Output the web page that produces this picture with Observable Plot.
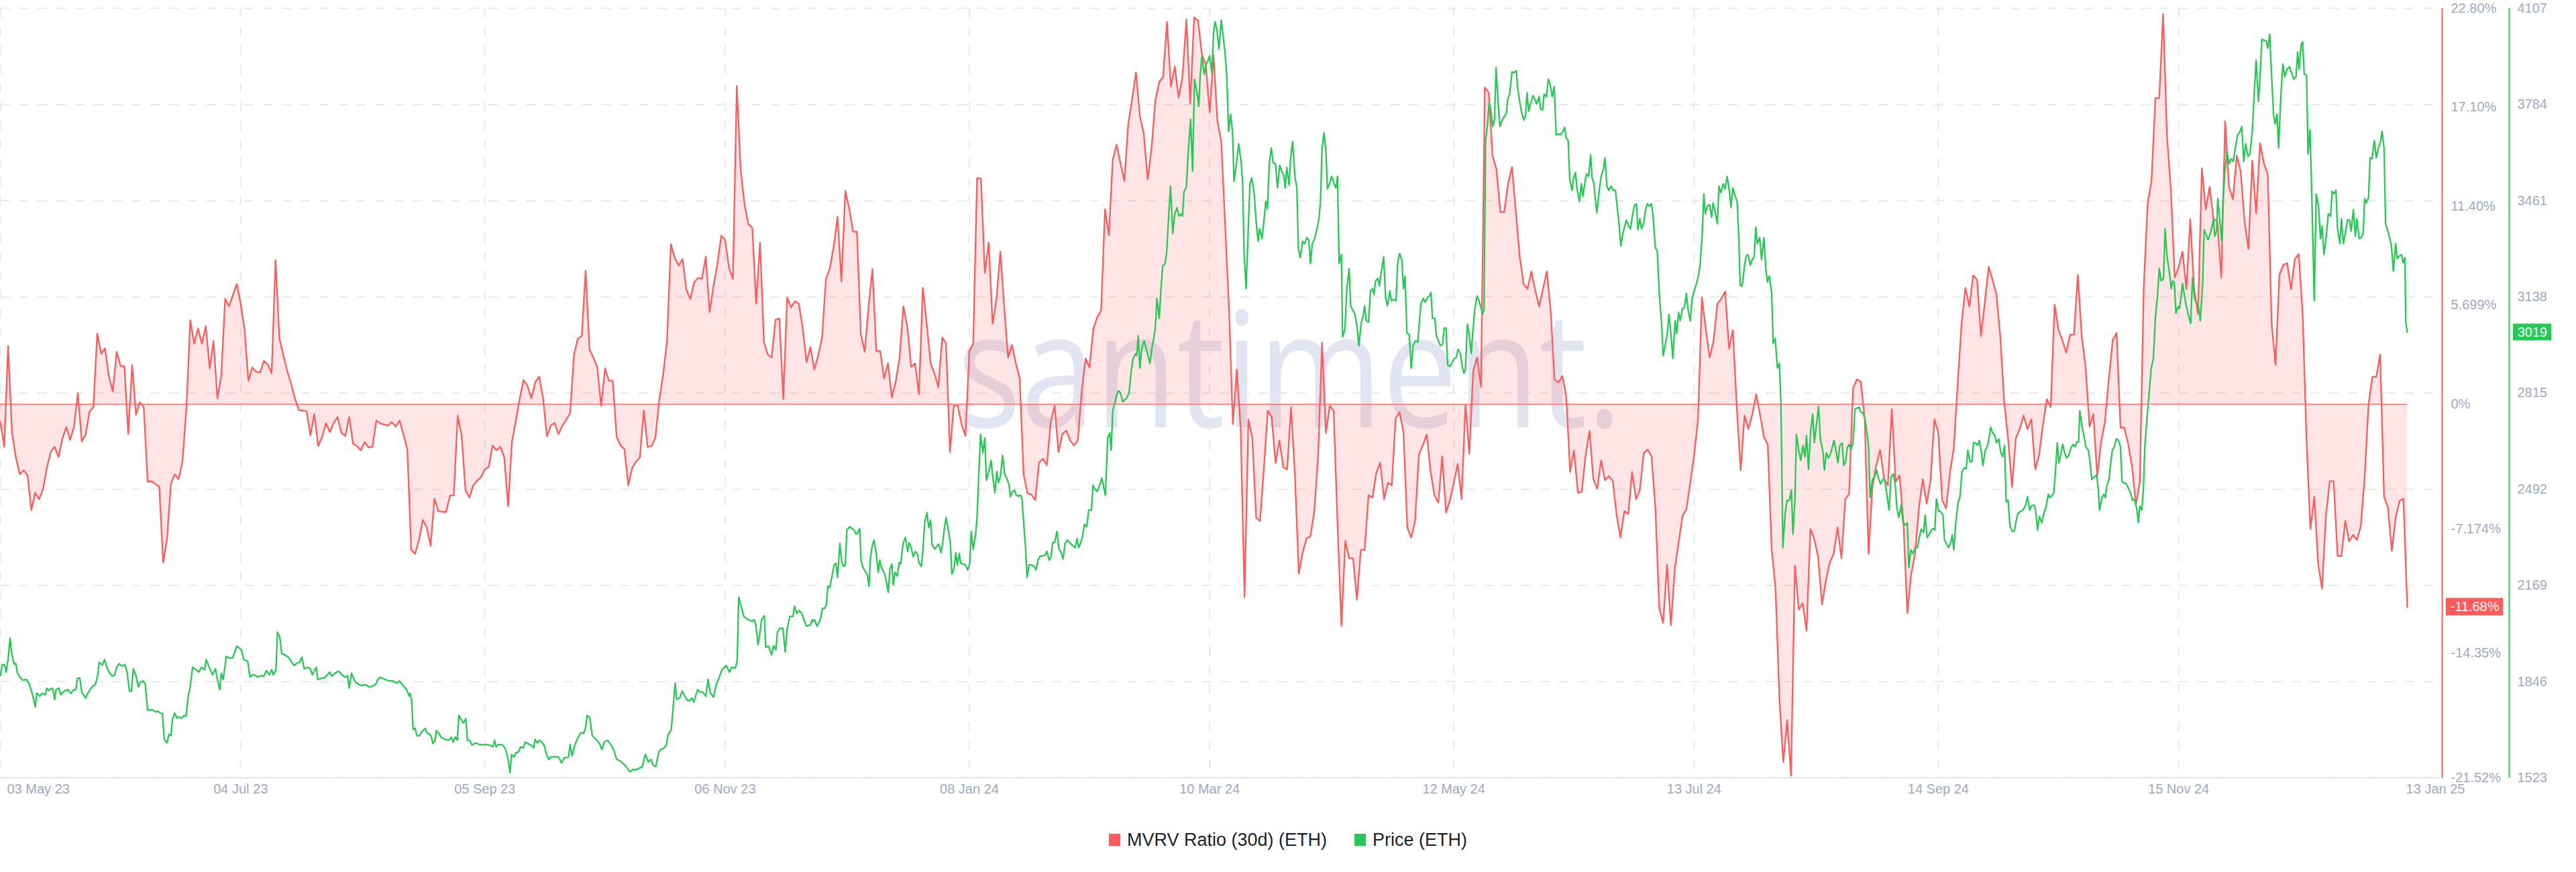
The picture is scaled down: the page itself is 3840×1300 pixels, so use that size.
<!DOCTYPE html>
<html><head><meta charset="utf-8">
<script src="https://cdn.jsdelivr.net/npm/d3@7"></script>
<script src="https://cdn.jsdelivr.net/npm/@observablehq/plot@0.6"></script>
<style>
html,body{margin:0;padding:0;background:#fff;}
body{width:3840px;height:1300px;overflow:hidden;position:relative;font-family:"Liberation Sans",Arial,sans-serif;}
#wm{position:absolute;left:1427px;top:424px;font-family:"Open Sans";font-size:240px;line-height:1;color:#e2e5f1;transform:scaleX(0.83);transform-origin:0 0;white-space:nowrap;}
#chart{position:absolute;left:0;top:0;}
#legend{position:absolute;left:0;top:1232px;width:3840px;height:40px;display:flex;justify-content:center;align-items:center;gap:41px;font-size:27px;color:#1b1e2e;}
.item{display:flex;align-items:center;gap:10px;}
.sw{width:17px;height:18px;display:inline-block;}
</style></head>
<body>
<div id="wm">santiment.</div>
<div id="chart"></div>
<div id="legend"></div>
<script>
const startDate = "2023-05-03";
const xEndDate = "2025-01-22";
const seriesNames = ["MVRV Ratio (30d) (ETH)", "Price (ETH)"];

// MVRV Ratio (30d), percent, one value per day from startDate
const mvrv = [
-1.03,-2.46,3.35,-1.66,-3.06,-4.04,-3.81,-4.10,-6.10,-5.10,
-5.47,-4.90,-3.67,-2.75,-2.46,-3.04,-2.00,-1.32,-2.06,-1.29,
0.63,-2.15,-1.75,-0.43,-0.17,4.07,2.92,3.21,1.60,0.74,
3.01,2.21,2.18,-1.72,2.26,-0.60,0.11,-0.17,-4.47,-4.44,
-4.60,-4.75,-9.11,-7.76,-4.58,-4.04,-4.32,-3.27,-0.23,4.84,
3.49,4.35,3.49,4.50,2.06,3.64,0.34,1.69,6.07,5.64,
6.30,6.93,5.79,4.30,1.35,2.12,1.86,1.83,2.49,2.29,
1.78,8.31,3.78,2.84,1.92,1.20,0.34,-0.34,-0.37,-0.40,
-1.80,-0.57,-2.41,-1.89,-1.09,-1.60,-1.09,-0.74,-1.66,-1.83,
-0.74,-2.29,-2.41,-2.66,-2.18,-2.49,-2.46,-0.95,-1.10,-1.17,
-1.23,-1.03,-1.29,-0.95,-1.75,-2.61,-8.39,-8.62,-7.82,-6.67,
-7.10,-8.16,-5.44,-6.16,-6.20,-6.21,-5.27,-5.24,-0.66,-1.80,
-4.95,-5.38,-4.67,-4.41,-4.21,-3.75,-3.61,-2.38,-2.66,-2.46,
-3.06,-5.87,-2.15,-0.95,0.34,1.40,1.06,0.34,1.26,1.60,
0.40,-1.86,-1.23,-1.09,-1.72,-1.23,-0.89,-0.52,2.86,3.78,
3.92,7.70,3.15,2.69,2.12,-0.09,2.06,1.35,1.35,-1.89,
-2.38,-2.58,-4.67,-3.67,-3.32,-3.06,-0.37,-2.46,-2.41,-1.95,
0.26,1.72,3.64,9.22,8.42,7.99,8.36,6.59,6.07,7.02,
7.27,7.22,8.51,5.30,6.84,8.08,9.71,9.45,7.85,7.22,
18.33,13.52,11.51,10.37,10.17,5.79,9.31,3.58,2.86,2.69,
4.87,4.93,0.29,6.16,5.58,5.93,5.79,4.41,2.43,3.29,
2.00,2.81,3.84,7.22,7.82,9.08,10.80,7.07,12.29,11.28,
9.94,9.94,4.07,3.01,5.61,7.79,3.06,3.06,1.49,2.35,
0.40,1.29,2.69,5.64,4.47,2.15,2.35,0.57,6.70,4.64,
2.35,1.78,0.97,3.84,3.49,-2.75,-0.09,-0.09,-1.17,-1.83,
3.06,3.49,13.03,13.00,7.56,9.31,4.64,6.07,8.79,5.58,
2.69,3.41,2.35,1.49,-4.04,-5.13,-5.20,-5.53,-3.35,-3.15,
-3.52,-1.03,-0.09,-2.75,-1.72,-1.52,-2.09,-2.38,-2.09,0.83,
2.63,2.12,4.35,5.01,5.41,11.23,9.74,14.09,14.95,13.86,
12.86,16.15,17.58,19.10,16.61,15.58,12.95,14.72,17.53,18.56,
18.87,22.02,18.30,19.45,17.67,18.87,22.17,17.33,22.28,22.11,
20.16,19.56,16.81,20.11,16.33,15.15,10.31,5.50,-1.15,2.00,
-1.37,-11.11,-0.89,-1.95,-6.53,-6.73,-3.67,-0.37,-0.74,-3.38,
-2.09,-3.64,-3.75,-0.17,-4.10,-9.77,-8.53,-7.73,-7.62,-6.19,
-2.95,3.55,-1.66,-0.09,-0.40,-6.96,-12.77,-7.88,-8.88,-8.88,
-11.26,-8.39,-8.39,-5.24,-5.38,-3.95,-3.38,-5.47,-4.53,-4.67,
-0.80,-0.46,-1.60,-7.10,-7.68,-6.73,-2.89,-2.38,-1.75,-3.87,
-5.24,-5.67,-3.01,-6.24,-5.53,-4.53,-3.44,-5.47,-0.03,-2.86,
1.92,2.69,1.00,18.24,17.96,14.32,13.52,11.08,11.08,12.72,
13.66,11.08,8.51,6.93,6.64,7.65,6.56,5.64,6.64,7.65,
5.36,1.40,1.26,1.63,0.46,-3.90,-2.66,-5.10,-5.04,-2.95,
-1.55,-4.32,-4.87,-3.24,-4.38,-4.15,-4.41,-6.39,-7.68,-6.16,
-6.33,-3.90,-5.47,-4.95,-2.81,-2.61,-3.01,-5.96,-11.74,-12.60,
-9.25,-12.74,-9.54,-7.96,-6.44,-6.04,-4.53,-2.95,-0.86,6.16,
4.35,2.69,3.64,5.79,6.07,6.50,3.21,4.27,-0.17,-3.81,
-0.66,-1.43,-0.60,0.57,-0.60,-1.89,-2.32,-8.33,-10.63,-16.98,
-20.62,-18.19,-21.40,-9.31,-11.83,-11.46,-13.06,-7.19,-7.76,-8.82,
-11.54,-10.17,-9.11,-8.62,-7.10,-8.88,-5.47,-5.18,0.92,1.43,
1.29,-0.80,-8.62,-4.75,-3.52,-2.63,-4.30,-4.67,-0.29,-4.47,
-4.10,-6.82,-12.03,-9.77,-8.62,-5.96,-4.32,-5.73,-4.38,-0.86,
-1.66,-5.53,-6.01,-3.95,-2.52,1.20,4.64,6.70,5.64,7.42,
7.16,3.92,5.87,7.93,7.16,6.30,3.87,0.11,-2.00,-4.78,
-1.95,-1.43,-0.66,-1.43,-0.86,-3.75,-2.95,-1.17,0.29,-0.17,
5.73,4.30,3.69,2.98,4.01,4.01,7.45,3.92,2.15,-1.29,
-0.57,-4.18,-2.18,-1.00,1.49,3.69,4.12,-1.35,-1.35,-2.32,
-3.61,-5.81,-4.44,6.70,11.57,12.86,17.64,17.64,22.48,15.44,
12.37,7.30,7.88,8.79,6.64,10.65,6.64,5.21,13.60,11.23,
12.52,10.65,10.57,7.30,16.30,12.52,11.80,14.32,13.43,10.57,
8.94,14.03,11.00,15.04,13.89,13.23,4.64,2.26,7.45,8.02,
8.13,6.64,8.36,8.65,5.21,-2.09,-7.19,-5.33,-9.19,-10.63,
-6.44,-4.44,-4.44,-8.74,-8.74,-6.73,-7.90,-7.53,-7.82,-7.02,
-4.24,0.00,1.58,1.58,2.86,-5.33,-5.96,-8.45,-6.53,-5.56,
-5.44,-11.68
];

// Price (ETH), USD: [days since startDate, price]
const priceSeries = [
[0,1866],[0.5,1903],[1.1,1903],[1.5,1878],[2,1920],[2.5,1992],[3,1936],[3.5,1906],[4,1906],[4.4,1874],[5.1,1861],[5.7,1851],[6.7,1853],[7.4,1841],[8.1,1811],[8.6,1786],[9,1761],[9.4,1807],[10.2,1797],[10.8,1807],[11.6,1802],[12,1824],[12.5,1816],[13.2,1824],[13.6,1819],[14,1786],[14.4,1819],[15.1,1824],[15.6,1802],[16.4,1814],[17.5,1819],[18.2,1806],[18.9,1819],[19.5,1819],[19.9,1858],[20.5,1858],[21,1811],[22,1791],[22.5,1806],[23,1816],[23.6,1828],[24.5,1836],[25.1,1866],[25.5,1911],[26.3,1901],[26.9,1920],[27.7,1886],[28.3,1873],[29,1864],[29.5,1869],[30,1894],[30.7,1906],[31.4,1898],[32.1,1903],[32.7,1878],[33.3,1814],[33.8,1814],[34.3,1889],[35,1866],[35.6,1828],[36.1,1844],[36.9,1848],[37.4,1836],[38,1749],[39.1,1752],[40.1,1744],[40.7,1747],[41.2,1740],[41.8,1739],[42.3,1652],[43,1640],[43.5,1669],[44,1664],[44.4,1719],[45,1740],[45.5,1724],[46.2,1727],[46.7,1722],[47.3,1732],[47.9,1730],[48.5,1799],[49,1831],[49.6,1894],[50.5,1886],[51.2,1878],[51.9,1894],[52.7,1886],[53.1,1920],[53.9,1894],[54.7,1869],[55.5,1889],[56,1853],[56.6,1819],[57,1874],[57.5,1853],[58.3,1931],[59,1925],[59.9,1925],[61,1965],[61.7,1958],[62.2,1953],[62.8,1920],[63.8,1915],[64.4,1861],[65.1,1869],[65.7,1868],[66.4,1861],[67.3,1866],[68,1864],[68.6,1883],[69.4,1869],[70,1886],[70.4,1869],[71.1,1886],[71.5,2012],[72.1,1995],[72.6,1940],[73.5,1935],[74.3,1928],[75.2,1911],[75.8,1900],[76.5,1908],[77.2,1911],[77.8,1928],[78.4,1889],[79.2,1894],[80,1889],[80.5,1869],[81.5,1894],[81.9,1853],[83,1858],[83.6,1858],[84.3,1868],[85,1878],[85.5,1864],[86.3,1874],[87.3,1881],[88.2,1868],[88.9,1861],[89.6,1866],[90,1824],[90.6,1874],[91.6,1844],[92.5,1836],[93.2,1833],[94.3,1836],[95.1,1828],[96,1831],[96.8,1836],[97.4,1853],[98,1861],[99.1,1854],[100.1,1849],[101.3,1848],[102.2,1841],[103,1848],[104,1831],[104.8,1819],[105.5,1797],
[105.7,1806],[106.1,1786],[106.5,1685],[107,1689],[107.5,1664],[108.1,1664],[108.7,1677],[109.6,1689],[110.1,1674],[110.8,1669],[111.2,1660],[111.6,1638],[112.1,1647],[112.5,1682],[113.1,1672],[113.9,1657],[114.8,1652],[115.6,1649],[116.4,1659],[116.8,1643],[117.4,1660],[117.9,1649],[118.3,1732],[118.9,1719],[119.5,1707],[120.1,1722],[120.5,1649],[121.1,1649],[121.7,1632],[122.5,1640],[123.6,1635],[124.5,1633],[125.5,1635],[126.4,1632],[127.1,1627],[127.5,1649],[127.9,1627],[128.5,1635],[129.6,1633],[130.4,1618],[131,1585],[131.5,1540],[131.9,1602],[132.5,1593],[133,1607],[133.7,1610],[134.2,1627],[134.9,1623],[135.4,1643],[136.1,1638],[137,1632],[137.6,1623],[138,1652],[138.5,1640],[139.1,1649],[139.7,1643],[140.3,1632],[140.9,1602],[141.5,1585],[142,1593],[142.8,1593],[144,1593],[144.8,1573],[145.5,1590],[146.6,1593],[147,1635],[147.5,1597],[148.2,1632],[148.7,1649],[149.7,1674],[150.4,1672],[150.9,1685],[151.4,1732],[152.1,1724],[152.7,1665],[153.7,1652],[154.5,1640],[155.2,1618],[155.8,1643],[156.7,1649],[157.6,1632],[158.3,1615],[159,1585],[159.9,1580],[160.9,1568],[161.5,1560],[162.4,1543],[163.3,1551],[164,1550],[164.9,1556],[165.6,1560],[166.4,1602],[167.2,1576],[167.9,1585],[168.4,1565],[169.1,1560],[169.9,1610],[170.4,1618],[171.1,1622],[171.8,1632],[172.3,1669],[173.1,1685],[174.1,1841],[174.5,1786],[175.3,1791],[175.9,1814],[176.6,1797],[177.2,1784],[177.8,1781],[178.4,1791],[178.9,1777],[179.9,1819],[180.5,1811],[181.2,1811],[182,1797],[182.6,1853],[183.2,1807],[184,1794],[184.7,1836],[185.4,1858],[186.2,1886],[187.3,1900],[188.1,1878],[188.7,1894],[189.6,1891],[190.1,1915],[190.5,2129],[191.2,2095],[191.8,2065],[192.9,2054],[194,2048],[194.5,2054],[194.9,2037],[195.5,1970],[195.9,2003],[196.4,2054],[197.1,2067],[197.5,1961],[198.2,1965],[199,1936],[199.5,1966],[200.1,1953],[200.5,2012],[201.1,2025],[201.9,2025],[202.5,1945],[203,2023],[203.7,2065],[204.5,2065],[204.9,2099],[205.5,2075],[206.1,2085],[206.8,2075],[207.3,2054],[208,2032],[209,2037],[209.5,2054],
[209.6,2048],[210.1,2053],[210.7,2032],[211.2,2045],[211.7,2062],[212.1,2092],[212.7,2092],[213.1,2104],[213.5,2166],[214,2162],[214.5,2196],[215.1,2238],[215.6,2243],[216,2196],[216.6,2310],[217.1,2246],[217.6,2233],[218,2238],[218.4,2355],[219.1,2366],[219.8,2360],[220.3,2355],[220.7,2343],[221.1,2343],[221.7,2360],[222.1,2249],[222.6,2229],[223.3,2213],[223.7,2204],[224.1,2166],[224.5,2263],[224.9,2299],[225.4,2321],[226,2274],[226.5,2213],[226.9,2254],[227.3,2229],[227.9,2216],[228.4,2196],[229.1,2146],[229.5,2224],[230,2241],[230.4,2171],[230.8,2213],[231.4,2201],[231.9,2246],[232.3,2241],[232.9,2310],[233.5,2330],[234.1,2283],[234.5,2313],[235,2296],[235.5,2266],[236.1,2283],[236.6,2274],[237,2246],[237.6,2233],[238,2284],[238.5,2383],[239.1,2413],[239.5,2363],[240,2388],[240.4,2305],[241.1,2291],[241.6,2301],[242.1,2308],[242.7,2279],[243.1,2308],[243.5,2355],[244,2397],[244.6,2355],[245.1,2313],[245.5,2207],[246.1,2229],[246.5,2279],[246.9,2238],[247.4,2276],[247.8,2243],[248.3,2241],[249,2238],[249.6,2221],[250.1,2243],[250.5,2350],[251,2290],[251.6,2338],[252,2397],[252.4,2530],[252.9,2676],[253.5,2614],[254,2664],[254.4,2522],[255.1,2556],[255.6,2589],[256,2539],[256.6,2480],[257.1,2551],[257.5,2514],[258,2534],[258.6,2606],[259.1,2544],[259.7,2527],[260.2,2510],[260.6,2467],[261.1,2484],[261.7,2489],[262.1,2472],[262.6,2469],[263.2,2472],[263.6,2459],[264.1,2364],[264.5,2296],[264.9,2196],[265.4,2238],[266,2238],[266.7,2233],[267.2,2221],[267.7,2254],[268.3,2268],[268.9,2268],[269.6,2271],[270,2284],[270.6,2254],[271.1,2266],[271.5,2313],[272,2313],[272.6,2350],[273.1,2293],[273.7,2279],[274.2,2258],[274.7,2310],[275.3,2321],[276.1,2310],[276.8,2301],[277.3,2296],[277.8,2326],[278.2,2296],[278.6,2308],[279.2,2333],[279.7,2375],[280.3,2366],[280.8,2422],[281.5,2422],[281.9,2505],[282.4,2492],[283,2485],[283.6,2505],[284.2,2530],[284.7,2497],[285.1,2472],[285.7,2664],[286.2,2681],[286.6,2623],[287,2756],[287.5,2781],[288.1,2812],[288.5,2823],[289,2815],[289.6,2785],[290.1,2793],[290.6,2798],[291.2,2815],[291.7,2882],[292.2,2927],[292.8,2946],[293.2,2941],[293.6,3008],[294,2899],[294.5,2966],[295.1,2991],[295.6,2966],[296.2,2935],[296.6,2915],[297.1,2966],[297.6,2999],[298,3036],[298.4,3133],[299,3066],[299.5,3175],[299.9,3242],[300.5,3250],[300.9,3284],[301.4,3401],[301.9,3510],[302.5,3351],[303,3417],[303.6,3437],[304.1,3409],[304.6,3417],[305,3409],[305.4,3493],[306,3505],[306.5,3630],[307.1,3735],[307.6,3560],[308.1,3869],[308.7,3827],[309.2,3777],[309.6,3886],[310,3945],[310.6,3886],[311.1,3920],[311.5,3928],[312,3948],[312.6,3889],[313,4028],[313.4,4062],
[313.9,4033],[314.4,3970],[315,4067],[315.5,4012],[316,3953],[316.4,3886],[316.9,3694],[317.4,3752],[317.9,3694],[318.3,3526],[318.9,3585],[319.5,3652],[320.1,3593],[320.5,3526],[320.9,3284],[321.4,3166],[321.8,3309],[322.4,3518],[322.9,3538],[323.5,3484],[324,3392],[324.5,3325],[324.9,3367],[325.5,3334],[326,3392],[326.5,3459],[326.9,3434],[327.4,3585],[327.9,3638],[328.4,3588],[329,3585],[329.5,3504],[330.1,3580],[330.6,3560],[331.1,3548],[331.5,3504],[331.9,3573],[332.5,3514],[332.9,3605],[333.4,3660],[334,3543],[334.5,3504],[334.9,3300],[335.4,3270],[336,3325],[336.5,3317],[337.1,3337],[337.6,3329],[338,3250],[338.5,3317],[339.1,3334],[339.6,3362],[340.2,3401],[340.6,3459],[341,3635],[341.5,3689],[342,3627],[342.4,3501],[343,3521],[343.5,3543],[344.1,3518],[344.6,3504],[345,3543],[345.4,3250],[346,3280],[346.3,3004],[346.9,3029],[347.4,3166],[348,3233],[348.4,3108],[348.9,3094],[349.4,3083],[350,3041],[350.5,2974],[351.1,3049],[351.6,3074],[352,3108],[352.4,3058],[353,3053],[353.5,3158],[354,3166],[354.4,3146],[354.8,3192],[355.4,3200],[355.8,3175],[356.3,3225],[356.9,3272],[357.4,3136],[357.9,3108],[358.5,3158],[358.9,3125],[359.5,3130],[360.1,3125],[360.5,3250],[361,3284],[361.6,3262],[362,3166],[362.4,3208],[362.9,3016],[363.5,3012],[364,2899],[364.5,2974],[365.1,2991],[365.7,2986],[366.1,3053],[366.5,3116],[367.1,3133],[367.6,3120],[368.2,3136],[368.7,3141],[369.1,3153],[369.5,3066],[370.1,3066],[370.5,3008],[371,2991],[371.5,2974],[372.1,2979],[372.5,3033],[373,3033],[373.4,2910],[374,2904],[374.5,2915],[375,2929],[375.6,2935],[376.1,2962],[376.7,2949],[377.2,2902],[377.6,2882],[378,2895],[378.5,3046],[378.9,3019],[379.5,2949],[379.9,3019],[380.4,3096],[381,3141],[381.5,3125],[382,3103],[382.4,3079],[382.8,3096],[383.2,3660],[383.7,3719],[384.1,3791],[384.6,3761],[385,3710],[385.5,3735],[385.9,3908],[386.5,3777],[386.9,3710],[387.4,3730],[388,3744],[388.5,3752],[388.9,3802],[389.4,3819],[390,3894],[390.5,3891],[391.1,3898],[391.5,3836],[392,3794],[392.5,3756],[393.1,3732],[393.5,3747],[393.9,3824],[394.3,3761],[394.8,3786],[395.4,3814],[395.9,3802],[396.4,3786],[397,3811],[397.4,3769],[397.9,3766],[398.3,3819],[398.9,3811],[399.4,3869],[399.9,3848],[400.4,3811],[400.9,3844],[401.4,3682],[402,3685],[402.5,3682],[403.1,3694],[403.6,3707],[404,3672],[404.5,3663],[404.9,3535],[405.5,3496],[405.9,3538],[406.4,3556],[406.8,3501],[407.4,3459],[407.9,3518],[408.3,3476],[408.8,3521],[409.2,3551],[409.8,3543],[410.3,3615],[410.7,3535],[411.1,3521],[411.5,3468],[411.9,3421],[412.5,3493],[413,3543],[413.6,3568],[414,3605],[414.5,3510],[415,3496],[415.6,3510],[416.1,3496],[416.7,3496],[417.2,3434],
[417.5,3401],[418.1,3309],[418.6,3351],[419.1,3376],[419.5,3396],[420.1,3376],[420.6,3367],[421,3404],[421.6,3446],[422.1,3451],[422.5,3364],[423,3401],[423.4,3367],[424,3384],[424.4,3426],[424.9,3451],[425.5,3443],[426,3451],[426.4,3409],[427,3304],[427.5,3292],[428,3150],[428.6,3049],[429,2941],[429.5,2974],[430,3008],[430.5,3079],[431,3016],[431.5,2932],[432.1,3058],[432.5,3016],[433,3086],[433.4,3058],[434,3099],[434.5,3103],[435,3150],[435.4,3099],[436,3058],[436.5,3133],[437,3158],[437.6,3183],[438.1,3208],[438.5,3242],[439.1,3351],[439.5,3484],[439.9,3417],[440.4,3443],[441,3448],[441.5,3406],[441.9,3454],[442.4,3426],[443,3384],[443.4,3510],[443.9,3488],[444.5,3518],[445,3501],[445.5,3543],[446.1,3493],[446.5,3438],[447,3504],[447.6,3476],[448.1,3459],[448.5,3342],[448.9,3175],[449.4,3175],[450,3242],[450.4,3275],[450.9,3280],[451.5,3245],[452,3263],[452.5,3275],[452.9,3372],[453.3,3317],[453.9,3337],[454.4,3263],[455,3337],[455.5,3233],[455.9,3188],[456.4,3208],[457,3153],[457.4,2982],[457.9,2999],[458.5,2899],[459,2915],[459.4,2778],[459.9,2296],[460.5,2413],[461,2455],[461.6,2455],[462.1,2489],[462.5,2341],[463,2455],[463.4,2676],[464,2623],[464.5,2589],[465.1,2639],[465.6,2601],[466,2673],[466.5,2559],[467.1,2693],[467.6,2745],[468,2648],[468.6,2715],[469.1,2770],[469.6,2656],[470.2,2623],[470.6,2556],[471.1,2614],[471.7,2597],[472.2,2611],[472.6,2631],[473.1,2656],[473.7,2614],[474.1,2581],[474.6,2639],[475.2,2648],[475.6,2572],[476.1,2584],[476.5,2631],[477,2643],[477.5,2626],[478,2648],[478.5,2761],[479.1,2765],[479.6,2768],[480,2751],[480.6,2748],[481.1,2726],[481.6,2681],[482,2639],[482.4,2464],[483,2525],[483.5,2530],[484.1,2556],[484.6,2527],[485.1,2510],[485.7,2525],[486.2,2522],[486.7,2477],[487.3,2422],[487.8,2534],[488.4,2544],[488.9,2505],[489.3,2430],[489.8,2397],[490.4,2438],[490.9,2380],[491.5,2371],[492,2380],[492.4,2229],[492.9,2288],[493.5,2276],[494,2296],[494.6,2296],[495.1,2330],[495.6,2358],[496.2,2346],[496.6,2405],[497.1,2330],[497.7,2341],[498.2,2355],[498.7,2360],[499.1,2355],[499.5,2459],[500.1,2418],[500.6,2417],[501.2,2405],[501.6,2321],[502.1,2310],[502.6,2296],[503.2,2313],[503.6,2338],[504,2288],[504.5,2380],[505.1,2447],[505.6,2467],[506.1,2551],[506.7,2564],[507.2,2561],[507.6,2623],[508.2,2584],[508.7,2586],[509.1,2648],[509.6,2648],[510.2,2639],[510.6,2656],[511.1,2617],[511.5,2572],[512.1,2623],[512.6,2634],[513.1,2664],[513.5,2701],[514,2681],[514.5,2676],[515,2648],[515.6,2661],[516.1,2617],[516.6,2601],[517.1,2639],[517.5,2450],[518,2455],[518.5,2366],[519.1,2351],[519.6,2350],[520,2380],[520.5,2410],[521.1,2417],
[521.8,2422],[522.5,2438],[523,2467],[523.6,2422],[524.1,2438],[524.8,2438],[525.2,2413],[525.6,2355],[526.1,2400],[526.7,2380],[527.2,2410],[527.8,2433],[528.4,2475],[528.8,2464],[529.4,2472],[529.8,2480],[530.2,2547],[530.7,2648],[531.1,2581],[531.7,2614],[532.1,2643],[532.6,2614],[533.1,2597],[533.7,2606],[534.2,2631],[534.8,2643],[535.3,2634],[535.7,2651],[536.2,2651],[536.5,2756],[537,2710],[537.6,2668],[538.1,2634],[538.7,2623],[539.1,2589],[539.6,2525],[540.3,2534],[540.8,2539],[541.2,2505],[541.6,2422],[542.2,2464],[542.7,2475],[543.1,2464],[543.5,2505],[544,2522],[544.4,2572],[544.9,2623],[545.4,2634],[545.9,2661],[546.5,2656],[547,2634],[547.4,2517],[547.9,2514],[548.5,2510],[549,2497],[549.6,2480],[550.1,2455],[550.6,2459],[551.2,2427],[551.6,2380],[552,2435],[552.5,2422],[552.9,2489],[553.3,2639],[553.9,2740],[554.4,2815],[554.9,2895],[555.5,2932],[556,3066],[556.6,3150],[557,3233],[557.5,3192],[558.1,3200],[558.5,3367],[559,3275],[559.5,3233],[560.1,3166],[560.5,3192],[560.9,3186],[561.3,3083],[561.8,3105],[562.2,3099],[562.6,3133],[563,3183],[563.4,3150],[563.8,3120],[564.4,3083],[565.1,3049],[565.6,3203],[566.1,3133],[566.5,3120],[567.1,3108],[567.6,3058],[568.2,3183],[568.6,3364],[569.1,3347],[569.6,3330],[570.3,3355],[571,3401],[571.3,3342],[571.8,3359],[572.1,3468],[572.6,3401],[573.1,3325],[573.5,3468],[573.9,3555],[574.5,3627],[575,3585],[575.6,3602],[576.1,3593],[576.6,3635],[577.2,3682],[577.7,3689],[578.3,3710],[578.8,3593],[579.3,3652],[579.9,3610],[580.4,3618],[581,3694],[581.5,3819],[582,3933],[582.6,3794],[583,3878],[583.5,4003],[584,4000],[584.6,3998],[585,3973],[585.5,4020],[585.9,3903],[586.5,3749],[586.9,3719],[587.4,3752],[587.8,3638],[588.4,3819],[588.9,3920],[589.4,3878],[590,3903],[590.6,3911],[591.2,3889],[591.7,3869],[592.3,3878],[592.7,3961],[593.1,3903],[593.6,3983],[594,3995],[594.4,3886],[595,3883],[595.4,3618],[595.9,3699],[596.4,3459],[597,3125],[597.5,3484],[598.1,3443],[598.6,3334],[599,3376],[599.5,3280],[600.1,3342],[600.6,3417],[601.2,3409],[601.6,3493],[602.1,3484],[602.6,3496],[603,3367],[603.6,3317],[604,3401],[604.5,3317],[605.1,3359],[605.6,3397],[606.1,3396],[606.5,3359],[607.1,3431],[607.6,3342],[608,3401],[608.6,3334],[609.1,3337],[609.6,3351],[610,3468],[610.4,3454],[611,3471],[611.4,3605],[611.9,3602],[612.5,3663],[613,3605],[613.5,3635],[614.1,3660],[614.5,3694],[615,3638],[615.4,3384],[616,3359],[616.5,3334],[616.9,3309],[617.4,3225],[618,3317],[618.4,3267],[618.9,3275],[619.5,3280],[619.9,3253],[620.4,3270],[620.6,3053],[621,3019]
];

const mvrvTicks = [22.8, 17.1, 11.4, 5.699, 0, -7.174, -14.35, -21.52];
const mvrvTickLabels = ["22.80%", "17.10%", "11.40%", "5.699%", "0%", "-7.174%", "-14.35%", "-21.52%"];
const priceTicks = [4107, 3784, 3461, 3138, 2815, 2492, 2169, 1846, 1523];
const dateTicks = ["2023-05-03", "2023-07-04", "2023-09-05", "2023-11-06", "2024-01-08", "2024-03-10", "2024-05-12", "2024-07-13", "2024-09-14", "2024-11-15"];
const lastLabelDate = "2025-01-13";
const lastMvrvLabel = "-11.68%";
const lastPriceLabel = "3019";

const RED = "#ff5b5b", GREEN = "#26c953", AXIS = "#9ea8c3", GRID = "#e6e9f2";
const t0 = new Date(startDate + "T00:00:00Z");
const dayToDate = d => new Date(t0.getTime() + d * 86400000);
const xEnd = new Date(xEndDate + "T00:00:00Z");
const mvrvData = mvrv.map((v, i) => ({date: dayToDate(i), v}));
const priceData = priceSeries.map(([d, p]) => ({date: dayToDate(d), p}));
const yMin = mvrvTicks[mvrvTicks.length - 1], yMax = mvrvTicks[0];
const pMin = priceTicks[priceTicks.length - 1], pMax = priceTicks[0];
const py = p => yMin + (p - pMin) * (yMax - yMin) / (pMax - pMin);
const mvrvLabelOf = new Map(mvrvTicks.map((t, i) => [t, mvrvTickLabels[i]]));
const priceLabelOf = new Map(priceTicks.map(t => [py(t), String(t)]));
const fmt = d3.utcFormat("%d %b %y");
const tickDates = dateTicks.map(d => new Date(d + "T00:00:00Z"));
const firstLabel = [tickDates[0]];
const midLabels = tickDates.slice(1);
const lastLabel = [new Date(lastLabelDate + "T00:00:00Z")];
const lastMvrv = mvrv[mvrv.length - 1];
const lastPrice = priceSeries[priceSeries.length - 1][1];

const chart = Plot.plot({
  width: 3840, height: 1200,
  marginTop: 12, marginBottom: 41, marginLeft: 0, marginRight: 200,
  style: {fontFamily: '"Liberation Sans", Arial, sans-serif', fontSize: "20px", background: "transparent", overflow: "visible"},
  x: {type: "utc", domain: [t0, xEnd], axis: null},
  y: {domain: [yMin, yMax], axis: null, label: null},
  marks: [
    Plot.ruleX(tickDates, {stroke: GRID, strokeWidth: 2, strokeDasharray: "14,14"}),
    Plot.ruleY(priceTicks.map(py), {stroke: GRID, strokeWidth: 2, strokeDasharray: "14,14", insetRight: 14}),
    Plot.ruleY([yMin], {stroke: "#e3e6f1", strokeWidth: 2}),
    Plot.areaY(mvrvData, {x: "date", y: "v", fill: RED, fillOpacity: 0.16}),
    Plot.ruleY([0], {x1: () => mvrvData[0].date, x2: () => mvrvData[mvrvData.length - 1].date, stroke: RED, strokeWidth: 1}),
    Plot.lineY(mvrvData, {x: "date", y: "v", stroke: RED, strokeWidth: 2.3}),
    Plot.lineY(priceData, {x: "date", y: d => py(d.p), stroke: GREEN, strokeWidth: 2.3}),
    Plot.ruleX([xEnd], {stroke: RED, strokeWidth: 2}),
    Plot.ruleX([xEnd], {stroke: GREEN, strokeWidth: 2, dx: 100}),
    Plot.axisY(mvrvTicks, {anchor: "right", tickSize: 0, tickPadding: 13, label: null, fill: AXIS, fontSize: 20, tickFormat: t => mvrvLabelOf.get(t)}),
    Plot.axisY(priceTicks.map(py), {anchor: "right", tickSize: 0, tickPadding: 12, dx: 100, label: null, fill: AXIS, fontSize: 20, tickFormat: t => priceLabelOf.get(t)}),
    Plot.rect([lastMvrv], {x1: () => xEnd, x2: () => xEnd, y1: d => d, y2: d => d, fill: RED, insetLeft: 6, insetRight: -91, insetTop: -13, insetBottom: -13}),
    Plot.text([lastMvrv], {x: () => xEnd, y: d => d, text: () => lastMvrvLabel, dx: 48.5, fill: "white", fontSize: 20}),
    Plot.rect([lastPrice], {x1: () => xEnd, x2: () => xEnd, y1: d => py(d), y2: d => py(d), fill: GREEN, insetLeft: 106, insetRight: -163, insetTop: -12.5, insetBottom: -12.5}),
    Plot.text([lastPrice], {x: () => xEnd, y: d => py(d), text: () => lastPriceLabel, dx: 134.5, fill: "white", fontSize: 20}),
    Plot.text(firstLabel, {x: d => d, text: d => fmt(d), frameAnchor: "bottom", dy: 23, dx: 10, textAnchor: "start", fill: AXIS, fontSize: 20}),
    Plot.text(midLabels, {x: d => d, text: d => fmt(d), frameAnchor: "bottom", dy: 23, fill: AXIS, fontSize: 20}),
    Plot.text(lastLabel, {x: d => d, text: d => fmt(d), frameAnchor: "bottom", dy: 23, dx: 42, fill: AXIS, fontSize: 20})
  ]
});
document.getElementById("chart").appendChild(chart);

const legend = document.getElementById("legend");
[[seriesNames[0], RED], [seriesNames[1], GREEN]].forEach(([name, color]) => {
  const item = document.createElement("div");
  item.className = "item";
  const sw = document.createElement("span");
  sw.className = "sw";
  sw.style.background = color;
  const tx = document.createElement("span");
  tx.textContent = name;
  item.appendChild(sw);
  item.appendChild(tx);
  legend.appendChild(item);
});
</script>
</body></html>
